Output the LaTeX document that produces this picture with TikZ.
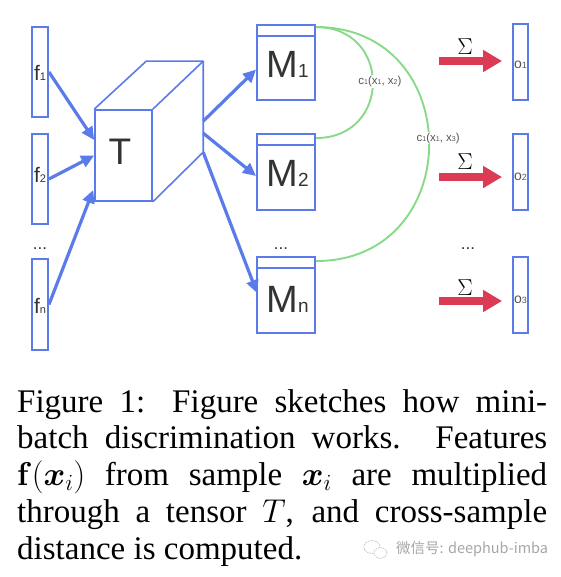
\documentclass[tikz,border=0pt]{standalone}
\usepackage{fix-cm}
\usepackage{amsmath}
\usepackage[no-math]{fontspec}
\setmainfont{Liberation Serif}
\setsansfont{Liberation Sans}
\newfontfamily\cjk{Noto Sans CJK SC}
\usetikzlibrary{arrows.meta,calc}
\definecolor{bblue}{HTML}{5B7BEA}
\definecolor{ggreen}{HTML}{88DA88}
\definecolor{rred}{HTML}{DC3B55}
\definecolor{tgray}{HTML}{333333}
\definecolor{lgray}{HTML}{555555}
\newcommand{\fs}[1]{\fontsize{#1}{#1}\selectfont}
\begin{document}
\begin{tikzpicture}[x=1pt,y=-1pt,
  box/.style={draw=bblue, line width=1.9pt, rectangle, inner sep=0pt},
  fbox/.style={box, minimum width=16pt, minimum height=90pt},
  mbox/.style={box, minimum width=58pt, minimum height=75pt},
  obox/.style={box, minimum width=15pt, minimum height=76pt},
  cube/.style={draw=bblue, line width=1.6pt, line join=round},
  barrow/.style={draw=bblue, line width=3.2pt, -{Triangle[length=13pt,width=12pt]}},
  rarrow/.style={draw=rred, line width=7.5pt, -{Triangle[length=19pt,width=21pt]}},
  garc/.style={draw=ggreen, line width=1.9pt},
  clabel/.style={font=\sffamily\fs{11.5}, text=lgray, fill=white, inner sep=1pt},
  dtext/.style={font=\sffamily, text=tgray, inner sep=0pt},
  capline/.style={inner sep=0pt, anchor=base west, font=\fs{33}},
]
\useasboundingbox (0,0) rectangle (560,577);

% feature boxes
\node[fbox] (f1) at (40,72) {};
\node[fbox] (f2) at (40,179) {};
\node[fbox, minimum height=91pt] (fn) at (40,304.5) {};
\node[dtext] (f1t) at (40,72.5) {{\fs{21}f}{\fs{11}1}};
\node[dtext] (f2t) at (40,175) {{\fs{21}f}{\fs{11}2}};
\node[dtext] (fnt) at (40,306) {{\fs{21}f}{\fs{11}n}};
\node[dtext, anchor=base] (fdots) at (40,249) {\fs{17}...};

% tensor cube
\node[box, line width=1.6pt, minimum width=57pt, minimum height=91pt] (T) at (123.5,155.5) {};
\draw[cube] (T.north west) -- ++(52,-48) coordinate (TL) -- ++(57,0) coordinate (TR)
  -- ++(0,91) coordinate (BR) -- (T.south east);
\draw[cube] (T.north east) -- (TR);
\node[dtext] (Tt) at (120,152) {\fs{37}T};

% input arrows
\draw[barrow] (f1.east) -- ([yshift=15.5pt]T.west);
\draw[barrow] (f2.east) -- (T.west);
\draw[barrow] (fn.east) -- ([yshift=-34.5pt,xshift=-1pt]T.west);

% M boxes
\node[mbox] (M1) at (286,62.5) {};
\node[mbox, minimum height=76pt] (M2) at (286,172) {};
\node[mbox, minimum height=76pt] (Mn) at (286,295) {};
\foreach \m in {M1,M2,Mn}{
  \draw[draw=bblue, line width=1.9pt] ([yshift=-12pt]\m.north west) -- ([yshift=-12pt]\m.north east);
}
\node[dtext] (M1t) at (287.5,64.5) {{\fs{38}M}{\fs{19}1}};
\node[dtext] (M2t) at (287.5,173.5) {{\fs{38}M}{\fs{19}2}};
\node[dtext] (Mnt) at (287.5,299) {{\fs{38}M}{\fs{19}n}};
\node[dtext, anchor=base] (mdots) at (281,249) {\fs{17}...};

% output arrows from cube
\coordinate (ob1) at ($(BR)+(0,-31)$);
\coordinate (ob2) at ($(BR)+(0,-19)$);
\draw[barrow] (ob1) -- ([yshift=-7pt]M1.west);
\draw[barrow] (ob2) -- ([yshift=-4pt]M2.west);
\draw[barrow] (BR) -- ([yshift=2pt,xshift=1pt]Mn.west);

% green distance arcs
\draw[garc] ([yshift=-3pt]M1.north east) .. controls +(76,0) and +(76,0) .. ([yshift=-5pt]M2.north east)
  node[clabel, pos=0.5, xshift=7pt, yshift=1pt] (c12) {c{\fs{7}1}(x{\fs{7}1}, x{\fs{7}2})};
\draw[garc] ([yshift=-3pt]M1.north east) .. controls +(151,0) and +(151,0) .. ([yshift=-5pt]Mn.north east)
  node[clabel, pos=0.5, xshift=9pt, yshift=6pt] (c13) {c{\fs{7}1}(x{\fs{7}1}, x{\fs{7}3})};

% output boxes
\node[obox] (o1) at (520.5,62) {};
\node[obox] (o2) at (520.5,172) {};
\node[obox] (o3) at (520.5,295) {};
\node[dtext, text=lgray] (o1t) at (520.5,65) {{\fs{14}o}{\fs{9}1}};
\node[dtext, text=lgray] (o2t) at (520.5,177) {{\fs{14}o}{\fs{9}2}};
\node[dtext, text=lgray] (o3t) at (520.5,300) {{\fs{14}o}{\fs{9}3}};
\node[dtext, anchor=base] (odots) at (468,249) {\fs{17}...};

% red sum arrows
\coordinate (r1) at (439,61);
\coordinate (r2) at (439,177);
\coordinate (r3) at (439,301);
\draw[rarrow, shorten >=10pt] (r1) -- (r1 -| o1.west);
\draw[rarrow, shorten >=10pt] (r2) -- (r2 -| o2.west);
\draw[rarrow, shorten >=10pt] (r3) -- (r3 -| o3.west);
\node[inner sep=0pt] (s1) at (465,46.5) {\fs{23}$\Sigma$};
\node[inner sep=0pt] (s2) at (465,161.5) {\fs{23}$\Sigma$};
\node[inner sep=0pt] (s3) at (465,287.5) {\fs{23}$\Sigma$};

% caption
\node[capline] (cap1) at (17,412) {\makebox[530pt][s]{Figure 1: Figure sketches how mini-}};
\node[capline] (cap2) at (17,448.75) {\makebox[530pt][s]{batch discrimination works. Features}};
\node[capline] (cap3) at (17,485.5) {\makebox[530pt][s]{$\mathbf{f}(\boldsymbol{x}_i)$ from sample $\boldsymbol{x}_i$ are multiplied}};
\node[capline] (cap4) at (17,522.25) {\makebox[530pt][s]{through a tensor $T$, and cross-sample}};
\node[capline] (cap5) at (17,559) {distance is computed.};

% watermark
\draw[gray!45, line width=0.8pt, dash pattern=on 1.5pt off 1pt] (372,547) ellipse [x radius=8, y radius=6.5];
\filldraw[fill=white, draw=gray!45, line width=0.8pt, dash pattern=on 1.5pt off 1pt] (380.5,553) ellipse [x radius=6.5, y radius=5.3];
\node[inner sep=0pt, anchor=west, text=gray!70, font=\cjk\fs{14.5}] (wm) at (396,549) {微信号: deephub-imba};
\end{tikzpicture}
\end{document}
